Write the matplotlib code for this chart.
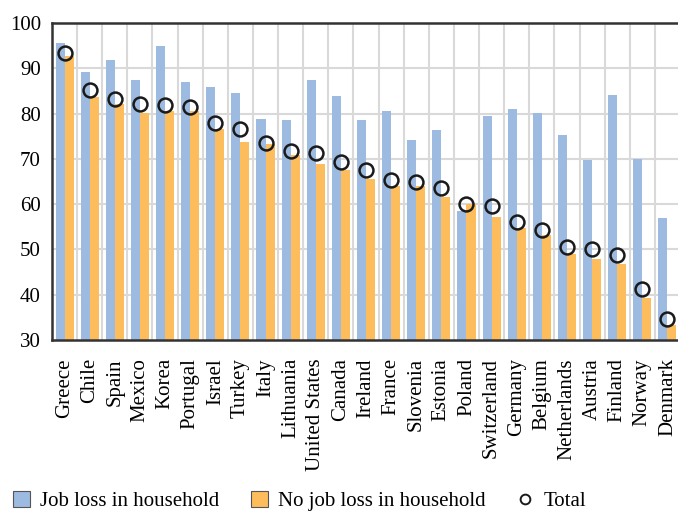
import numpy as np
import matplotlib
matplotlib.use('Agg')
import matplotlib.pyplot as plt
from matplotlib.lines import Line2D
from matplotlib.patches import Patch

countries = ['Greece', 'Chile', 'Spain', 'Mexico', 'Korea', 'Portugal', 'Israel',
             'Turkey', 'Italy', 'Lithuania', 'United States', 'Canada', 'Ireland',
             'France', 'Slovenia', 'Estonia', 'Poland', 'Switzerland', 'Germany',
             'Belgium', 'Netherlands', 'Austria', 'Finland', 'Norway', 'Denmark']
job_loss = [95.6, 89.2, 91.8, 87.4, 94.9, 87.0, 85.8, 84.5, 78.8, 78.6, 87.4, 83.9,
            78.6, 80.6, 74.2, 76.4, 58.5, 79.4, 81.0, 80.1, 75.3, 69.7, 84.1, 70.0, 56.9]
no_job_loss = [92.7, 83.7, 82.1, 80.1, 80.6, 80.6, 76.6, 73.7, 73.3, 70.8, 68.9, 67.5,
               65.5, 64.0, 64.0, 61.6, 60.0, 57.1, 54.7, 53.2, 49.0, 47.9, 46.8, 39.3, 33.3]
total = [93.3, 85.3, 83.3, 82.1, 81.8, 81.4, 77.9, 76.7, 73.6, 71.7, 71.3, 69.4,
         67.5, 65.3, 64.9, 63.6, 60.0, 59.5, 56.1, 54.4, 50.5, 50.0, 48.8, 41.3, 34.6]

plt.rcParams['font.family'] = ['Liberation Serif', 'DejaVu Serif']

blue = '#9dbbe1'
orange = '#fdbd5d'
fs = 15

fig = plt.figure(figsize=(6.78, 5.12), dpi=100)
ax = fig.add_axes([52/678, 1 - 340/512, 628/678, 317/512])

x = np.arange(len(countries))
w = 0.36
ax.bar(x - w/2, job_loss, width=w, color=blue, zorder=2)
ax.bar(x + w/2, no_job_loss, width=w, color=orange, zorder=2)
ax.plot(x, total, 'o', markersize=10, markerfacecolor='none', markeredgecolor='#1a1a1a',
        markeredgewidth=1.8, zorder=3)

ax.set_ylim(30, 100)
ax.set_xlim(-0.5, len(countries) - 0.5)
ax.set_yticks(range(30, 101, 10))
ax.set_xticks(x)
ax.set_xticklabels(countries, rotation=90, fontsize=fs)
ax.tick_params(axis='y', labelsize=fs, length=0, pad=8)
ax.tick_params(axis='x', length=0, pad=13)

# grid: horizontal at each 10, vertical at category boundaries
for v in range(40, 100, 10):
    ax.axhline(v, color='#d9d9d9', lw=1.5, zorder=1)
for b in np.arange(0.5, len(countries) - 0.5, 1):
    ax.axvline(b, color='#d9d9d9', lw=1.5, zorder=1)

for s in ['left', 'bottom', 'top']:
    ax.spines[s].set_color('#333333')
    ax.spines[s].set_linewidth(1.8)
ax.spines['right'].set_visible(False)

handles = [Patch(facecolor=blue, edgecolor='#555555', lw=0.8),
           Patch(facecolor=orange, edgecolor='#555555', lw=0.8),
           Line2D([], [], marker='o', ls='none', markersize=7, markerfacecolor='none',
                  markeredgecolor='#1a1a1a', markeredgewidth=1.4)]
fig.legend(handles, ['Job loss in household', 'No job loss in household', 'Total'],
           loc='lower left', bbox_to_anchor=(-0.008, -0.035), ncol=3, frameon=False,
           fontsize=fs, handlelength=0.8, handleheight=0.8, handletextpad=0.5,
           columnspacing=1.5)

fig.savefig('out.png', dpi=100)
